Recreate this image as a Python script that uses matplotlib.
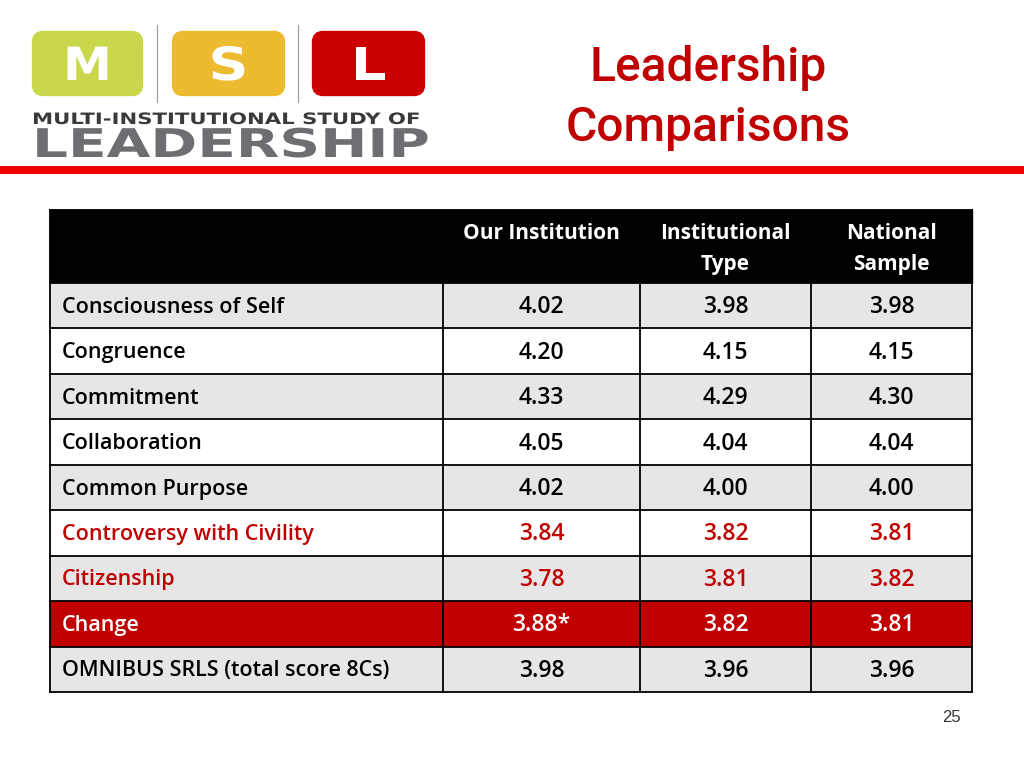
import matplotlib
matplotlib.use("Agg")
import matplotlib.pyplot as plt
from matplotlib.patches import Rectangle, FancyBboxPatch
from matplotlib.patheffects import AbstractPathEffect
from matplotlib.transforms import Affine2D

# ---------------- data ----------------
title_lines = ["Leadership", "Comparisons"]
columns = ["Our Institution", "Institutional\nType", "National\nSample"]
categories = ["Consciousness of Self", "Congruence", "Commitment", "Collaboration",
              "Common Purpose", "Controversy with Civility", "Citizenship", "Change",
              "OMNIBUS SRLS (total score 8Cs)"]
our_institution = [4.02, 4.20, 4.33, 4.05, 4.02, 3.84, 3.78, 3.88, 3.98]
institutional_type = [3.98, 4.15, 4.29, 4.04, 4.00, 3.82, 3.81, 3.82, 3.96]
national_sample = [3.98, 4.15, 4.30, 4.04, 4.00, 3.81, 3.82, 3.81, 3.96]
significant = ["", "", "", "", "", "", "", "*", ""]
row_style = ["gray", "white", "gray", "white", "gray", "redtext_white", "redtext_gray", "redfill", "gray"]
page_number = "25"

RED = "#C00000"
GRAY = "#E6E6E6"
FONT = ["Roboto", "Liberation Sans", "DejaVu Sans"]
TFONT = ["Open Sans", "Roboto", "DejaVu Sans"]
WIDE = ["DejaVu Sans"]


class Stretch(AbstractPathEffect):
    """Draw text glyphs stretched horizontally around the text origin."""
    def __init__(self, sx):
        super().__init__()
        self.sx = sx

    def draw_path(self, renderer, gc, tpath, affine, rgbFace=None):
        renderer.draw_path(gc, tpath, Affine2D().scale(self.sx, 1) + affine, rgbFace)


fig = plt.figure(figsize=(10.24, 7.68), dpi=100)
ax = fig.add_axes([0, 0, 1, 1])
ax.set_xlim(0, 1024)
ax.set_ylim(768, 0)
ax.axis("off")
fig.canvas.draw()
renderer = fig.canvas.get_renderer()


def fitted_text(x0, x1, y_base, s, size, color):
    t = ax.text(x0, y_base, s, color=color, fontsize=size, fontweight="bold",
                ha="left", va="baseline", family=WIDE)
    w = t.get_window_extent(renderer).width
    t.set_path_effects([Stretch((x1 - x0) / w)])
    return t


# ---------------- logo ----------------
logo_boxes = [(32, 143, "#C9D84A", "M"), (172, 285, "#EDBB30", "S"), (312, 425, "#CC0000", "L")]
for x0, x1, c, letter in logo_boxes:
    ax.add_patch(FancyBboxPatch((x0 + 4, 35), x1 - x0 - 8, 57,
                                boxstyle="round,pad=0,rounding_size=7", fc=c, ec=c, lw=6))
    xm = (x0 + x1) / 2
    lw_ = {"M": 49, "S": 40, "L": 36}[letter]
    fitted_text(xm - lw_ / 2, xm + lw_ / 2, 80, letter, 33, "white")
for xs in (157, 298):
    ax.plot([xs, xs], [25, 102], color="#9A9A9A", lw=0.8)
fitted_text(32, 425, 124, "MULTI-INSTITUTIONAL STUDY OF", 11.3, "#3A3A3A")
fitted_text(32, 430, 157, "LEADERSHIP", 28.5, "#6D6E71")

# red rule
ax.add_patch(Rectangle((0, 166), 1024, 8, fc="#F20000", ec="none"))

# title
ax.text(708, 68, title_lines[0], color=RED, fontsize=34.5, ha="center", va="center",
        family=FONT, fontweight="medium")
ax.text(708, 128, title_lines[1], color=RED, fontsize=34.5, ha="center", va="center",
        family=FONT, fontweight="medium")

# ---------------- table ----------------
col_x = [50, 443, 640, 811, 972]
header_top, header_bot = 210, 283
row_h = (692 - 283) / len(categories)

ax.add_patch(Rectangle((col_x[0], header_top), col_x[-1] - col_x[0], header_bot - header_top,
                       fc="black", ec="black", lw=1))
for j, name in enumerate(columns):
    cx = (col_x[j + 1] + col_x[j + 2]) / 2
    ax.text(cx, 223, name, color="white", fontsize=15, fontweight="bold", ha="center",
            va="top", family=TFONT, linespacing=1.6)

for i, cat in enumerate(categories):
    y0 = header_bot + i * row_h
    style = row_style[i]
    if style == "redfill":
        fc, tc = RED, "white"
    elif style == "redtext_white":
        fc, tc = "white", RED
    elif style == "redtext_gray":
        fc, tc = GRAY, RED
    elif style == "gray":
        fc, tc = GRAY, "black"
    else:
        fc, tc = "white", "black"
    ax.add_patch(Rectangle((col_x[0], y0), col_x[-1] - col_x[0], row_h, fc=fc, ec="none"))
    yc = y0 + row_h / 2 + 1.5
    ax.text(col_x[0] + 12, yc, cat, color=tc, fontsize=15.5, fontweight="semibold",
            ha="left", va="center", family=TFONT)
    vals = [our_institution[i], institutional_type[i], national_sample[i]]
    for j, v in enumerate(vals):
        label = f"{v:.2f}" + (significant[i] if j == 0 else "")
        cx = (col_x[j + 1] + col_x[j + 2]) / 2
        ax.text(cx, yc, label, color=tc, fontsize=16.5, fontweight="semibold",
                ha="center", va="center", family=TFONT)

# grid lines
table_bot = header_bot + len(categories) * row_h
for k in range(len(categories) + 1):
    y = header_bot + k * row_h
    ax.plot([col_x[0], col_x[-1]], [y, y], color="black", lw=1.3)
ax.plot([col_x[0], col_x[-1]], [header_top, header_top], color="black", lw=1.3)
for k, x in enumerate(col_x):
    top = header_top if k in (0, len(col_x) - 1) else header_bot
    ax.plot([x, x], [top, table_bot], color="black", lw=1.3)

ax.text(951, 717, page_number, color="#333333", fontsize=12, ha="center", va="center",
        family=["Liberation Sans", "DejaVu Sans"])

fig.savefig("out.png", dpi=100, facecolor="white")
